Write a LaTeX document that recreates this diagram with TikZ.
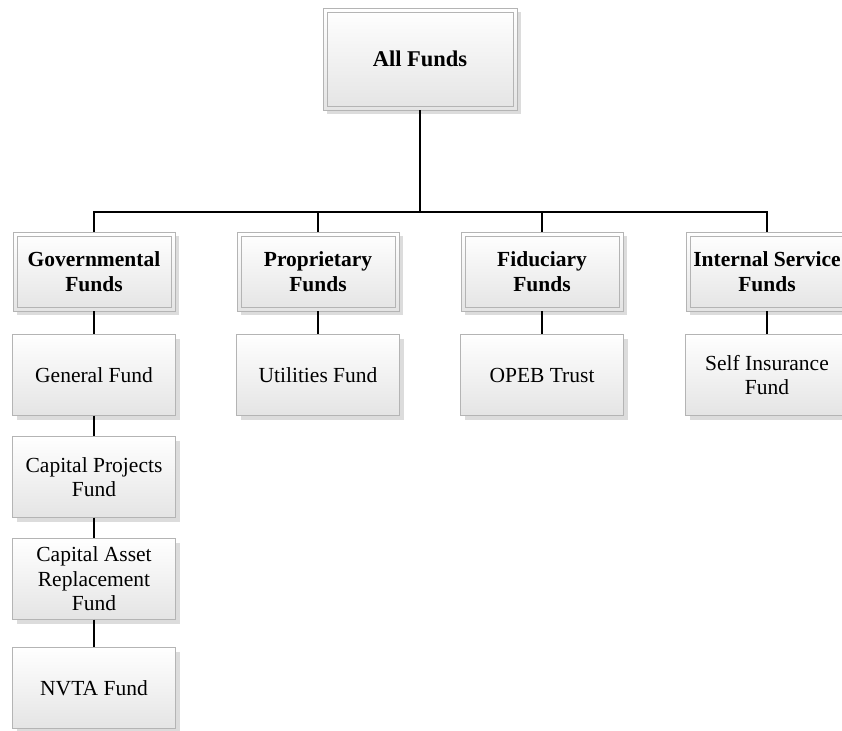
\documentclass[tikz,border=0pt]{standalone}
\usepackage{fontspec}
\setmainfont{Liberation Serif}
\usetikzlibrary{shadows}
\definecolor{framegray}{HTML}{B4B4B4}
\definecolor{shadegray}{HTML}{E4E4E4}
\definecolor{shadowgray}{HTML}{DCDCDC}

\begin{document}
\begin{tikzpicture}[x=1pt, y=-1pt,
  fund/.style={rectangle, draw=framegray, top color=white, bottom color=shadegray, drop shadow={shadow xshift=4pt, shadow yshift=-4pt, fill=shadowgray, opacity=1}, minimum width=163pt, minimum height=81pt, align=center, inner sep=2pt, font=\fontsize{21.5}{24.5}\selectfont},
  group/.style={fund, minimum width=162pt, minimum height=79pt, font=\fontsize{21.5}{24.5}\selectfont\bfseries,
    path picture={\draw[framegray] ([shift={(4pt,-4pt)}]path picture bounding box.north west) rectangle ([shift={(-4pt,4pt)}]path picture bounding box.south east);}},
  conn/.style={line width=2pt, black}
]
  \useasboundingbox (0,0) rectangle (842,730);
  % top
  \node[group, minimum width=194pt, minimum height=102pt, font=\fontsize{22.5}{26}\selectfont\bfseries] (all) at (420,59) {All Funds};
  \coordinate (bar) at (420,212);
  % fund groups
  \node[group] (gov) at (94,271.5) {Governmental\\Funds};
  \node[group] (prop) at (318,271.5) {Proprietary\\Funds};
  \node[group] (fid) at (542,271.5) {Fiduciary\\Funds};
  \node[group] (isf) at (767,271.5) {Internal Service\\Funds};
  % funds
  \node[fund] (gf) at (94,375) {General Fund};
  \node[fund] (cpf) at (94,477) {Capital Projects\\Fund};
  \node[fund] (carf) at (94,579) {Capital Asset\\Replacement\\Fund};
  \node[fund] (nvta) at (94,688) {NVTA Fund};
  \node[fund] (uf) at (318,375) {Utilities Fund};
  \node[fund] (opeb) at (542,375) {OPEB Trust};
  \node[fund] (sif) at (767,375) {Self Insurance\\Fund};
  % connectors
  \draw[conn] (all.south) -- (bar);
  \foreach \g in {gov,prop,fid,isf}
    \draw[conn] (bar) -| (\g.north);
  \draw[conn] (gov) -- (gf);
  \draw[conn] (gf) -- (cpf);
  \draw[conn] (cpf) -- (carf);
  \draw[conn] (carf) -- (nvta);
  \draw[conn] (prop) -- (uf);
  \draw[conn] (fid) -- (opeb);
  \draw[conn] (isf) -- (sif);
\end{tikzpicture}
\end{document}
